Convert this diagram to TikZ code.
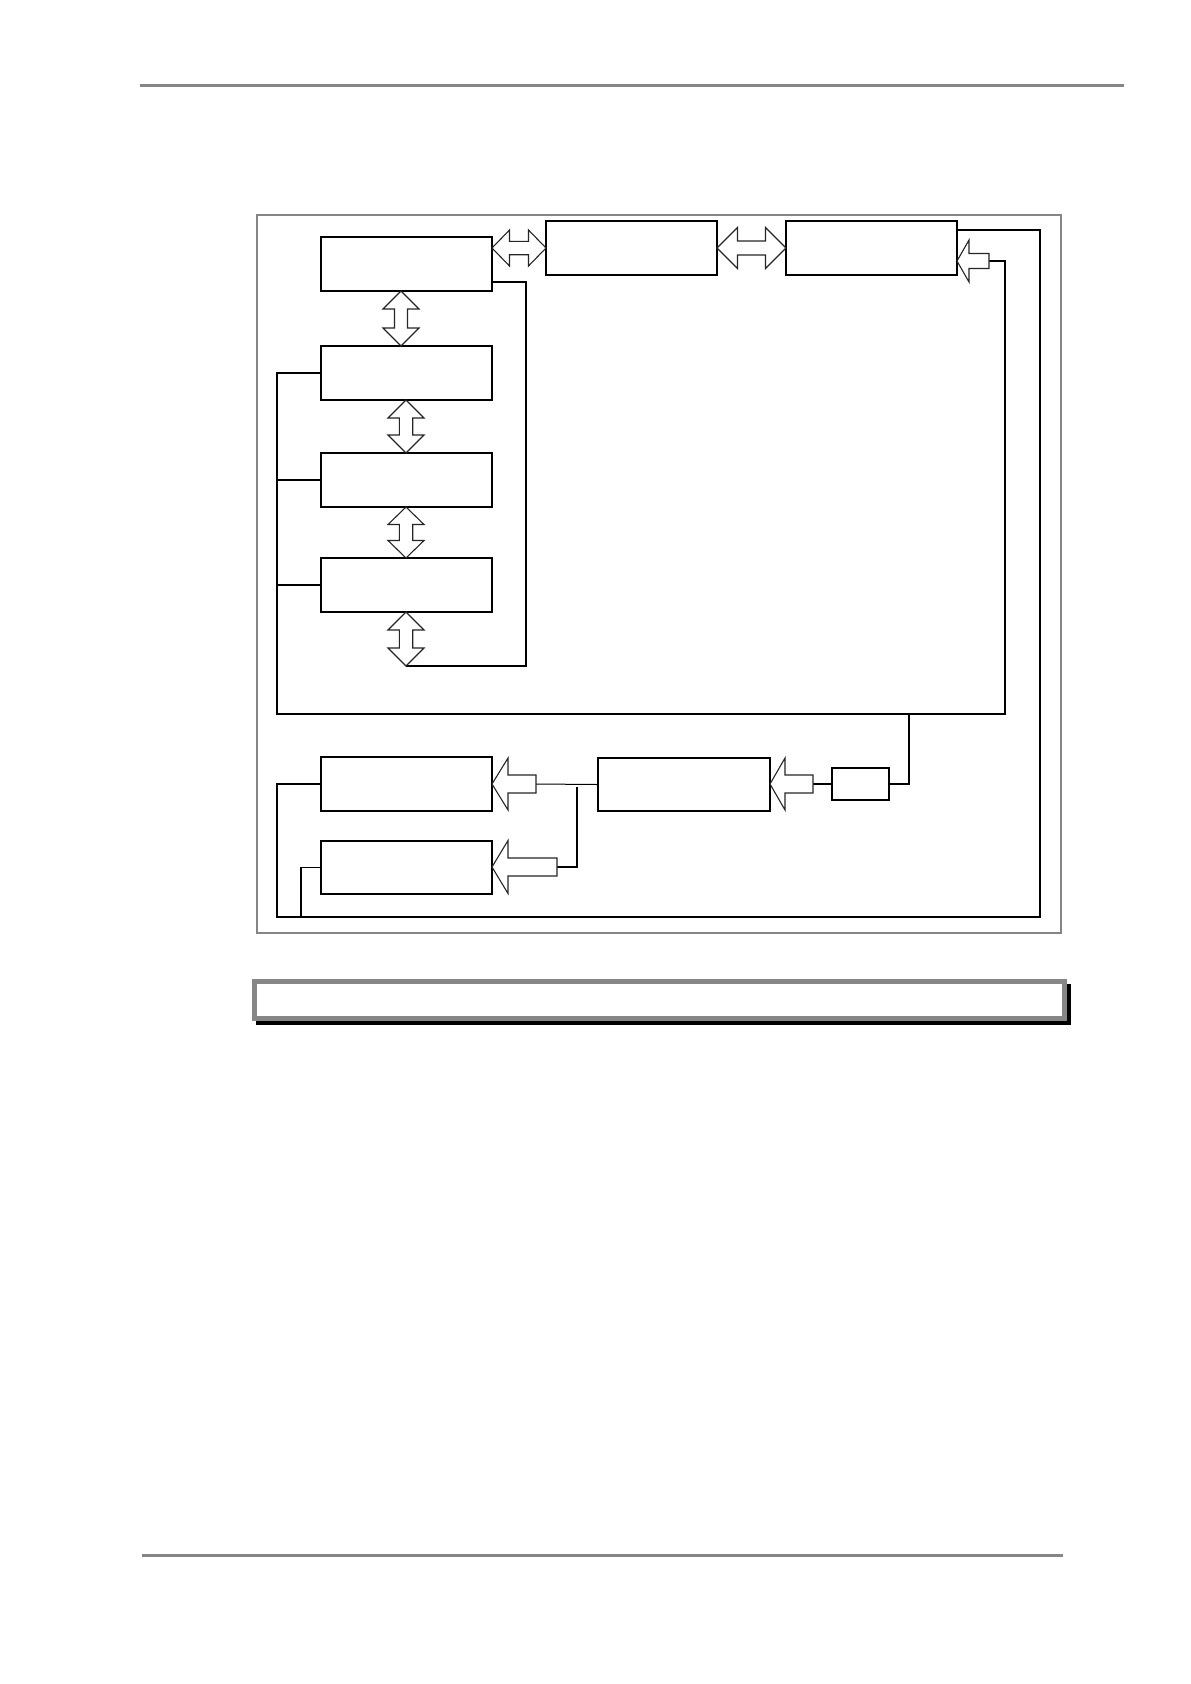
\documentclass[tikz,border=0pt]{standalone}
\usetikzlibrary{calc}
\definecolor{rulegray}{HTML}{868686}
\tikzset{
  box/.style={draw=black, line width=1.6pt, fill=white, minimum width=171pt, minimum height=54pt, inner sep=0pt},
  smallbox/.style={draw=black, line width=1.3pt, fill=white, minimum width=57pt, minimum height=32pt, inner sep=0pt},
  conn/.style={draw=black, line width=1.4pt},
  thinconn/.style={draw=black, line width=1.0pt},
  blockarrow/.style={draw=black!85, line width=1.1pt, fill=white, line join=miter},
  rule/.style={draw=rulegray, line width=3pt},
  frame/.style={draw=rulegray, line width=1.5pt}
}
% horizontal double block arrow: x1 x2 y headlen headhalf shafthalf
\newcommand\hdblarrow[6]{%
 \draw[blockarrow] (#1,#3) -- ({#1+#4},{#3-#5}) -- ({#1+#4},{#3-#6}) -- ({#2-#4},{#3-#6}) -- ({#2-#4},{#3-#5}) -- (#2,#3) -- ({#2-#4},{#3+#5}) -- ({#2-#4},{#3+#6}) -- ({#1+#4},{#3+#6}) -- ({#1+#4},{#3+#5}) -- cycle;}
% vertical double block arrow: y1 y2 x headlen headhalf shafthalf
\newcommand\vdblarrow[6]{%
 \draw[blockarrow] (#3,#1) -- ({#3+#5},{#1+#4}) -- ({#3+#6},{#1+#4}) -- ({#3+#6},{#2-#4}) -- ({#3+#5},{#2-#4}) -- (#3,#2) -- ({#3-#5},{#2-#4}) -- ({#3-#6},{#2-#4}) -- ({#3-#6},{#1+#4}) -- ({#3-#5},{#1+#4}) -- cycle;}
% left-pointing block arrow: xtip xtail y headlen headhalf shafthalf
\newcommand\leftblkarrow[6]{%
 \draw[blockarrow] (#1,#3) -- ({#1+#4},{#3-#5}) -- ({#1+#4},{#3-#6}) -- (#2,{#3-#6}) -- (#2,{#3+#6}) -- ({#1+#4},{#3+#6}) -- ({#1+#4},{#3+#5}) -- cycle;}
\begin{document}
\begin{tikzpicture}[x=1pt,y=-1pt]
\useasboundingbox[fill=white] (0,0) rectangle (1191,1684);

% page rules
\draw[rule] (140,85.3) -- (1124,85.3);
\draw[rule] (142,1555.3) -- (1063,1555.3);

% frame
\draw[frame] (257,215) rectangle (1061,933);

% boxes
\node[box] (A) at (406.5,264) {};
\node[box] (B) at (631.5,248) {};
\node[box] (F) at (871.5,248) {};
\node[box] (C) at (406.5,373) {};
\node[box] (D) at (406.5,480) {};
\node[box] (E) at (406.5,585) {};
\node[box] (I) at (406.5,784) {};
\node[box, minimum height=53pt] (J) at (406.5,867.5) {};
\node[box, minimum width=172pt, minimum height=53pt] (H) at (684,784.5) {};
\node[smallbox] (G) at (860.5,784) {};

% junction coordinates
\coordinate (ebot) at (406,666);
\coordinate (rA) at (526,666);
\coordinate (fin) at (989,261);
\coordinate (busR) at (1005,714);
\coordinate (bus) at (277,714);
\coordinate (gtap) at (909,714);
\coordinate (hin) at (813,784);
\coordinate (iin) at (536,784);
\coordinate (jin) at (557,867);
\coordinate (jtap) at (577,787);
\coordinate (oR) at (1040,917);
\coordinate (oL) at (277,917);
\coordinate (oJ) at (301,917);

% connectors
\draw[conn] ([yshift=-18pt]A.east) -| (rA) -- (ebot);
\draw[conn] ([yshift=18pt]F.east) -| (oR) -- (oL) |- (I.west);
\draw[conn] (oJ) |- (J.west);
\draw[conn] (fin) -| (busR) -- (bus) |- (C.west);
\draw[conn] (D.west) -- (D.west -| bus);
\draw[conn] (E.west) -- (E.west -| bus);
\draw[conn] (gtap) |- (G.east);
\draw[conn] (G.west) -- (hin);
\draw[thinconn] (H.west) -- (iin);
\draw[conn] (jtap) |- (jin);

% block arrows
\hdblarrow{492}{546}{248}{17.5}{18}{6.7}
\hdblarrow{717}{786}{248}{20.5}{20.5}{7}
\vdblarrow{291}{346}{401}{18}{18}{6.5}
\vdblarrow{400}{453}{406}{18}{18}{6.7}
\vdblarrow{507}{558}{406}{17.5}{18}{6.7}
\vdblarrow{612}{666}{406}{18}{18}{6.7}
\leftblkarrow{957}{989}{261}{12}{21}{7.5}
\leftblkarrow{770}{813}{784}{15}{26}{9}
\leftblkarrow{492}{536}{784}{16}{26}{9}
\leftblkarrow{492}{557}{867}{16}{26.5}{9}

% caption box with shadow
\fill[black] (256,984) rectangle (1071,1025);
\draw[draw=rulegray, line width=5pt, fill=white] (254.5,981.5) rectangle (1064.5,1018.5);
\end{tikzpicture}
\end{document}
